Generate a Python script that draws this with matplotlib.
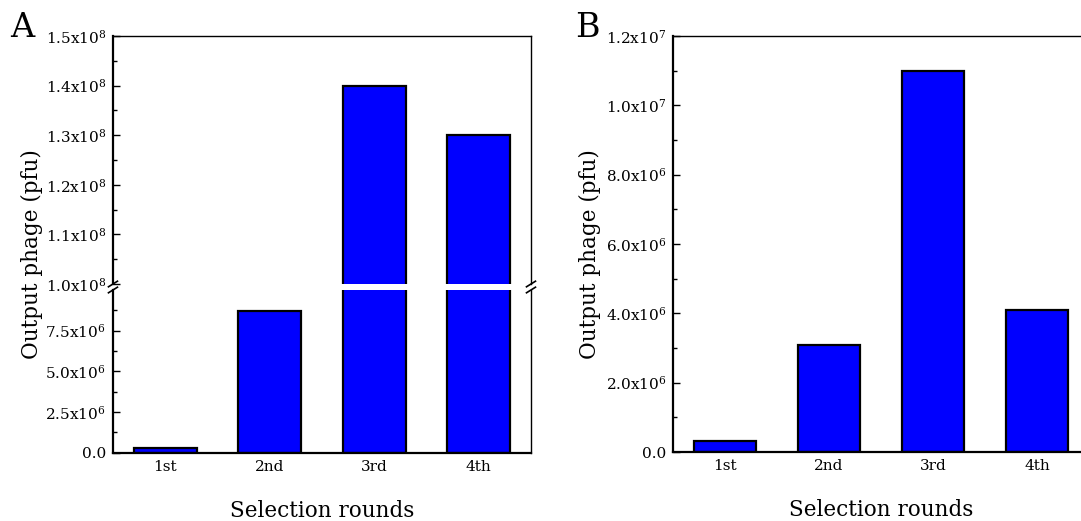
"""
Output phage per selection round, panel A with a broken y axis, panel B linear.
"""

import matplotlib
matplotlib.use('Agg')
import matplotlib.pyplot as plt
from matplotlib.ticker import MultipleLocator, FixedLocator, FuncFormatter
import numpy as np

# Daten
rounds = ['1st', '2nd', '3rd', '4th']
phage_a = [3.0e5, 8.7e6, 1.4e8, 1.3e8]
phage_b = [3.3e5, 3.1e6, 1.1e7, 4.1e6]

plt.rcParams['font.family'] = 'DejaVu Serif'
plt.rcParams['mathtext.fontset'] = 'dejavuserif'

BAR_COLOR = '#0000ff'
TICK_SIZE = 11
LABEL_SIZE = 15.5


def sci(v, pos):
    if abs(v) < 1e-9:
        return '0.0'
    if v < 0:
        return ''
    e = int(np.floor(np.log10(v) + 1e-9))
    m = v / 10 ** e
    return f'{m:.1f}x10$^{{{e}}}$'


def style_axis(ax, major, minor):
    ax.yaxis.set_major_locator(major)
    ax.yaxis.set_minor_locator(minor)
    ax.yaxis.set_major_formatter(FuncFormatter(sci))
    ax.tick_params(axis='y', which='major', direction='in', length=5, width=1,
                   labelsize=TICK_SIZE, right=False, pad=5)
    ax.tick_params(axis='y', which='minor', direction='in', length=3, width=1, right=False)
    ax.tick_params(axis='x', length=0, labelsize=TICK_SIZE, pad=5)
    ax.set_xlim(0.5, 4.5)
    for s in ['left', 'bottom']:
        ax.spines[s].set_linewidth(1.6)
    for s in ['top', 'right']:
        ax.spines[s].set_linewidth(1.0)


def draw_bars(ax, values):
    x = np.arange(1, len(values) + 1)
    ax.bar(x, values, width=0.6, color=BAR_COLOR, edgecolor='black', linewidth=1.6)
    ax.set_xticks(x)
    ax.set_xticklabels(rounds)


fig = plt.figure(figsize=(10.81, 5.21), dpi=100)

# Panel A: gebrochene y-Achse
ax_top = fig.add_axes([0.1045, 0.4549, 0.3867, 0.4760])
ax_bot = fig.add_axes([0.1045, 0.1311, 0.3867, 0.3123])

draw_bars(ax_top, phage_a)
draw_bars(ax_bot, phage_a)
ax_top.set_ylim(1.0e8, 1.5e8)
ax_bot.set_ylim(0, 1.0e7)
style_axis(ax_top, MultipleLocator(1e7), MultipleLocator(5e6))
style_axis(ax_bot, FixedLocator([0, 2.5e6, 5.0e6, 7.5e6]),
           FixedLocator([1.25e6, 3.75e6, 6.25e6, 8.75e6]))

ax_top.spines['bottom'].set_visible(False)
ax_top.tick_params(axis='x', bottom=False, labelbottom=False)
ax_bot.spines['top'].set_visible(False)
ax_bot.set_xlabel('Selection rounds', fontsize=LABEL_SIZE, labelpad=19)

# Bruchzeichen
dx = 4.5 / 418
for ax, h, y0 in [(ax_top, 249, 0.0), (ax_bot, 163, 1.0)]:
    dy = 2.8 / h
    for xc in (0.0, 1.0):
        ax.plot([xc - dx, xc + dx], [y0 - dy, y0 + dy], transform=ax.transAxes,
                color='black', linewidth=1.2, clip_on=False)

fig.text(0.030, 0.512, 'Output phage (pfu)', rotation=90, ha='center', va='center',
         fontsize=LABEL_SIZE)
fig.text(0.009, 1 - 37 / 521, 'A', fontsize=24, va='baseline')

# Panel B
ax_b = fig.add_axes([0.6226, 0.1324, 0.3848, 0.7985])
draw_bars(ax_b, phage_b)
ax_b.set_ylim(0, 1.2e7)
style_axis(ax_b, MultipleLocator(2e6), MultipleLocator(1e6))
ax_b.set_xlabel('Selection rounds', fontsize=LABEL_SIZE, labelpad=19)

fig.text(0.546, 0.512, 'Output phage (pfu)', rotation=90, ha='center', va='center',
         fontsize=LABEL_SIZE)
fig.text(0.532, 1 - 37 / 521, 'B', fontsize=24, va='baseline')

plt.savefig('out.png', dpi=100)
